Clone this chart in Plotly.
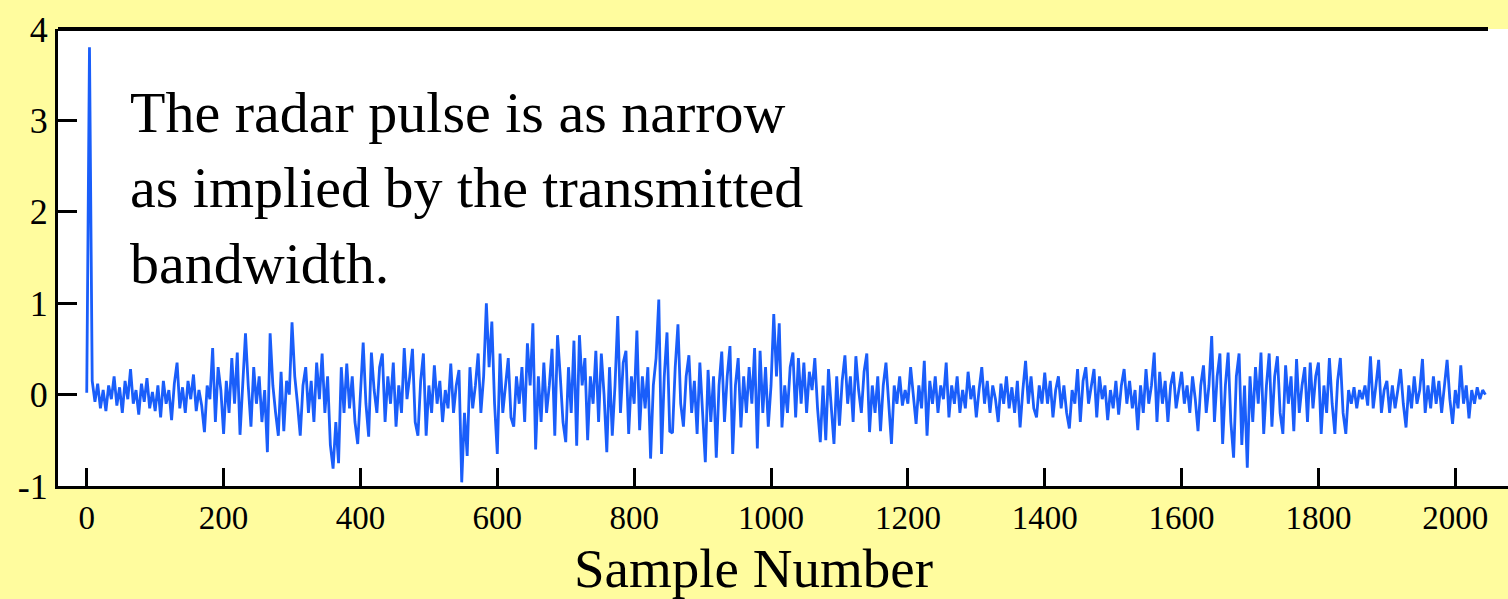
import plotly.graph_objects as go

# Echo amplitude, one value every 4 samples (sample 0..2044)
sample_step = 4
amplitude = [
    # 0-96
    0.02, 3.8, 0.15, -0.08, 0.12, -0.15, 0.05, -0.18, 0.1, -0.05, 0.2, -0.12, 0.08,
    -0.2, 0.15, -0.05, 0.28, -0.1, 0.05, -0.22, 0.12, -0.08, 0.18, -0.15, 0.03,
    # 100-196
    -0.18, 0.1, -0.25, 0.15, -0.1, 0.05, -0.28, 0.12, 0.35, -0.15, 0.08, -0.2, 0.15,
    -0.05, 0.22, -0.18, 0.05, -0.12, -0.41, 0.1, -0.05, 0.51, -0.3, 0.3, 0.05,
    # 200-296
    -0.43, 0.15, -0.2, 0.4, -0.1, 0.46, -0.44, 0.2, 0.67, 0.1, -0.35, 0.3, -0.1,
    0.2, -0.3, 0.05, -0.63, 0.67, 0.1, -0.2, -0.45, 0.25, -0.4, 0.15, 0.0,
    # 300-396
    0.79, 0.2, -0.1, -0.45, 0.1, 0.3, -0.2, 0.15, -0.3, 0.35, -0.05, 0.45, -0.2,
    0.2, -0.55, -0.81, -0.3, -0.75, 0.3, -0.2, 0.34, -0.15, 0.2, -0.3, -0.54,
    # 400-496
    0.1, 0.57, -0.1, -0.46, 0.46, 0.05, -0.2, 0.3, 0.45, -0.3, 0.2, -0.1, 0.35,
    -0.35, 0.1, -0.2, 0.51, -0.05, 0.2, 0.5, -0.3, -0.45, 0.15, 0.45, -0.45,
    # 500-596
    0.1, -0.2, 0.32, -0.1, 0.15, -0.3, 0.05, -0.15, 0.34, -0.2, 0.1, 0.27, -0.96,
    -0.2, -0.67, 0.3, -0.15, 0.1, 0.45, -0.2, 0.2, 1.0, 0.3, 0.8, -0.1,
    # 600-696
    -0.65, 0.45, -0.2, 0.1, 0.4, -0.25, -0.35, 0.2, -0.1, 0.3, -0.3, 0.56, 0.1,
    0.78, -0.6, 0.2, -0.3, 0.35, -0.2, 0.1, 0.5, -0.45, 0.65, 0.2, -0.3,
    # 700-796
    -0.52, 0.3, -0.2, 0.59, -0.56, 0.65, 0.1, 0.4, -0.5, 0.2, -0.1, 0.48, -0.3,
    0.45, 0.0, -0.63, 0.3, -0.45, 0.1, 0.86, -0.2, 0.35, 0.48, -0.43, 0.2,
    # 800-896
    -0.1, 0.7, -0.39, 0.2, -0.15, 0.3, -0.7, 0.1, 0.4, 1.04, -0.65, 0.2, 0.68,
    -0.4, -0.42, 0.3, 0.77, -0.1, -0.35, 0.2, 0.43, -0.2, 0.15, -0.43, 0.35,
    # 900-996
    -0.2, -0.74, 0.27, -0.3, 0.2, -0.69, 0.1, 0.47, -0.3, 0.2, 0.53, -0.65, 0.1,
    0.4, -0.36, 0.2, -0.2, 0.3, -0.1, 0.51, -0.59, 0.48, -0.2, 0.3, -0.35,
    # 1000-1096
    0.1, 0.88, 0.2, 0.78, -0.36, 0.1, -0.2, 0.3, 0.46, -0.25, 0.4, -0.1, 0.35,
    -0.2, 0.25, 0.05, 0.4, -0.15, -0.52, 0.1, -0.5, 0.28, -0.1, -0.54, 0.2,
    # 1100-1196
    -0.34, 0.15, 0.43, -0.1, 0.2, -0.3, 0.42, 0.05, -0.2, 0.25, 0.45, -0.41, 0.1,
    -0.2, 0.2, -0.4, 0.1, 0.35, -0.15, -0.54, 0.1, -0.1, 0.2, -0.12, 0.05,
    # 1200-1296
    -0.1, 0.3, -0.05, -0.32, 0.1, -0.15, 0.37, -0.45, 0.15, -0.1, 0.2, -0.2, 0.1,
    -0.05, 0.35, -0.25, 0.1, -0.1, 0.2, -0.2, 0.05, -0.15, 0.25, -0.05, 0.1,
    # 1300-1396
    -0.25, 0.05, 0.3, -0.1, 0.15, -0.2, 0.1, -0.05, -0.3, 0.12, -0.1, 0.2, -0.15,
    0.08, -0.2, 0.15, -0.36, 0.05, 0.37, -0.1, 0.2, -0.15, -0.25, 0.1, -0.1,
    # 1400-1496
    0.24, -0.1, 0.15, -0.25, 0.05, 0.2, -0.15, 0.1, -0.2, -0.37, 0.05, -0.1, 0.28,
    -0.3, 0.15, 0.3, -0.1, 0.1, 0.28, -0.25, 0.2, -0.05, 0.1, -0.28, 0.05,
    # 1500-1596
    -0.15, 0.15, -0.22, 0.1, 0.28, -0.1, 0.15, -0.15, 0.05, -0.39, 0.1, -0.2, 0.28,
    -0.1, 0.1, 0.46, -0.3, 0.25, -0.1, 0.15, -0.3, 0.1, 0.25, -0.15, 0.05,
    # 1600-1696
    0.25, -0.1, 0.1, -0.2, 0.2, -0.05, -0.4, 0.1, 0.32, -0.2, 0.1, 0.64, -0.3,
    0.2, 0.45, -0.54, 0.1, 0.46, -0.3, -0.69, 0.2, 0.45, -0.55, 0.1, -0.8,
    # 1700-1796
    0.2, -0.3, 0.3, -0.1, 0.46, -0.43, 0.1, 0.45, -0.35, 0.2, 0.42, -0.2, -0.43,
    0.32, -0.1, 0.2, -0.4, 0.39, -0.2, 0.1, 0.3, -0.3, 0.35, -0.15, 0.2,
    # 1800-1896
    0.35, -0.43, 0.1, -0.2, 0.4, -0.1, -0.43, 0.15, 0.4, -0.2, -0.43, 0.05, -0.1,
    0.08, -0.15, 0.05, -0.05, 0.1, -0.12, 0.42, -0.15, 0.1, 0.38, -0.2, 0.05,
    # 1900-1996
    0.15, -0.2, 0.1, -0.15, 0.05, 0.28, -0.1, -0.36, 0.1, -0.15, 0.2, -0.1, 0.05,
    0.39, -0.2, 0.1, -0.15, 0.2, -0.1, 0.15, -0.2, 0.1, 0.38, -0.05, -0.32,
    # 2000-2044
    0.05, -0.15, 0.32, -0.1, 0.1, -0.26, 0.05, -0.1, 0.08, -0.05, 0.05, 0.0,
]
samples = list(range(0, sample_step * len(amplitude), sample_step))

x_ticks = [0, 200, 400, 600, 800, 1000, 1200, 1400, 1600, 1800, 2000]
y_ticks = [-1, 0, 1, 2, 3, 4]
y_tick_text = ["-1", "0", "1", "2", "3", "4"]
x_title = "Sample Number"
note_lines = ["The radar pulse is as narrow", "as implied by the transmitted", "bandwidth."]

FONT = "Liberation Serif"
BG = "#FFFC9E"

fig = go.Figure()
fig.add_trace(go.Scatter(
    x=samples, y=amplitude, mode="lines",
    line=dict(color="#1A5EFA", width=2.8),
    hoverinfo="skip", showlegend=False,
))

fig.update_layout(
    width=1508, height=599,
    margin=dict(l=58, r=0, t=29, b=113),
    paper_bgcolor=BG, plot_bgcolor="white",
    font=dict(family=FONT, color="black"),
    xaxis=dict(
        range=[-42, 2077], tickvals=x_ticks, ticks="inside", ticklen=18,
        tickwidth=3, tickcolor="black", showline=True, linewidth=3,
        linecolor="black", showgrid=False, zeroline=False,
        tickfont=dict(family=FONT, size=33), ticklabelstandoff=0,
    ),
    yaxis=dict(
        range=[-1, 4], tickvals=y_ticks, ticktext=y_tick_text, ticks="inside",
        ticklen=19, tickwidth=3, tickcolor="black", showline=True, linewidth=3,
        linecolor="black", showgrid=False, zeroline=False,
        tickfont=dict(family=FONT, size=36), ticklabelstandoff=0,
    ),
    shapes=[dict(type="line", xref="paper", yref="paper",
                 x0=0, x1=(1488 - 58) / 1450, y0=1, y1=1,
                 line=dict(color="black", width=4))],
    annotations=[
        dict(text=x_title, xref="paper", yref="paper",
             x=(753 - 58) / 1450, y=-(601 - 486) / 457,
             xanchor="center", yanchor="bottom", showarrow=False,
             font=dict(family=FONT, size=55)),
        dict(text="<br>".join(note_lines), xref="paper", yref="paper",
             x=(128 - 58) / 1450, y=(486 - 78) / 457,
             xanchor="left", yanchor="top", align="left", showarrow=False,
             font=dict(family=FONT, size=58)),
    ],
)

fig.write_html("out.html")
